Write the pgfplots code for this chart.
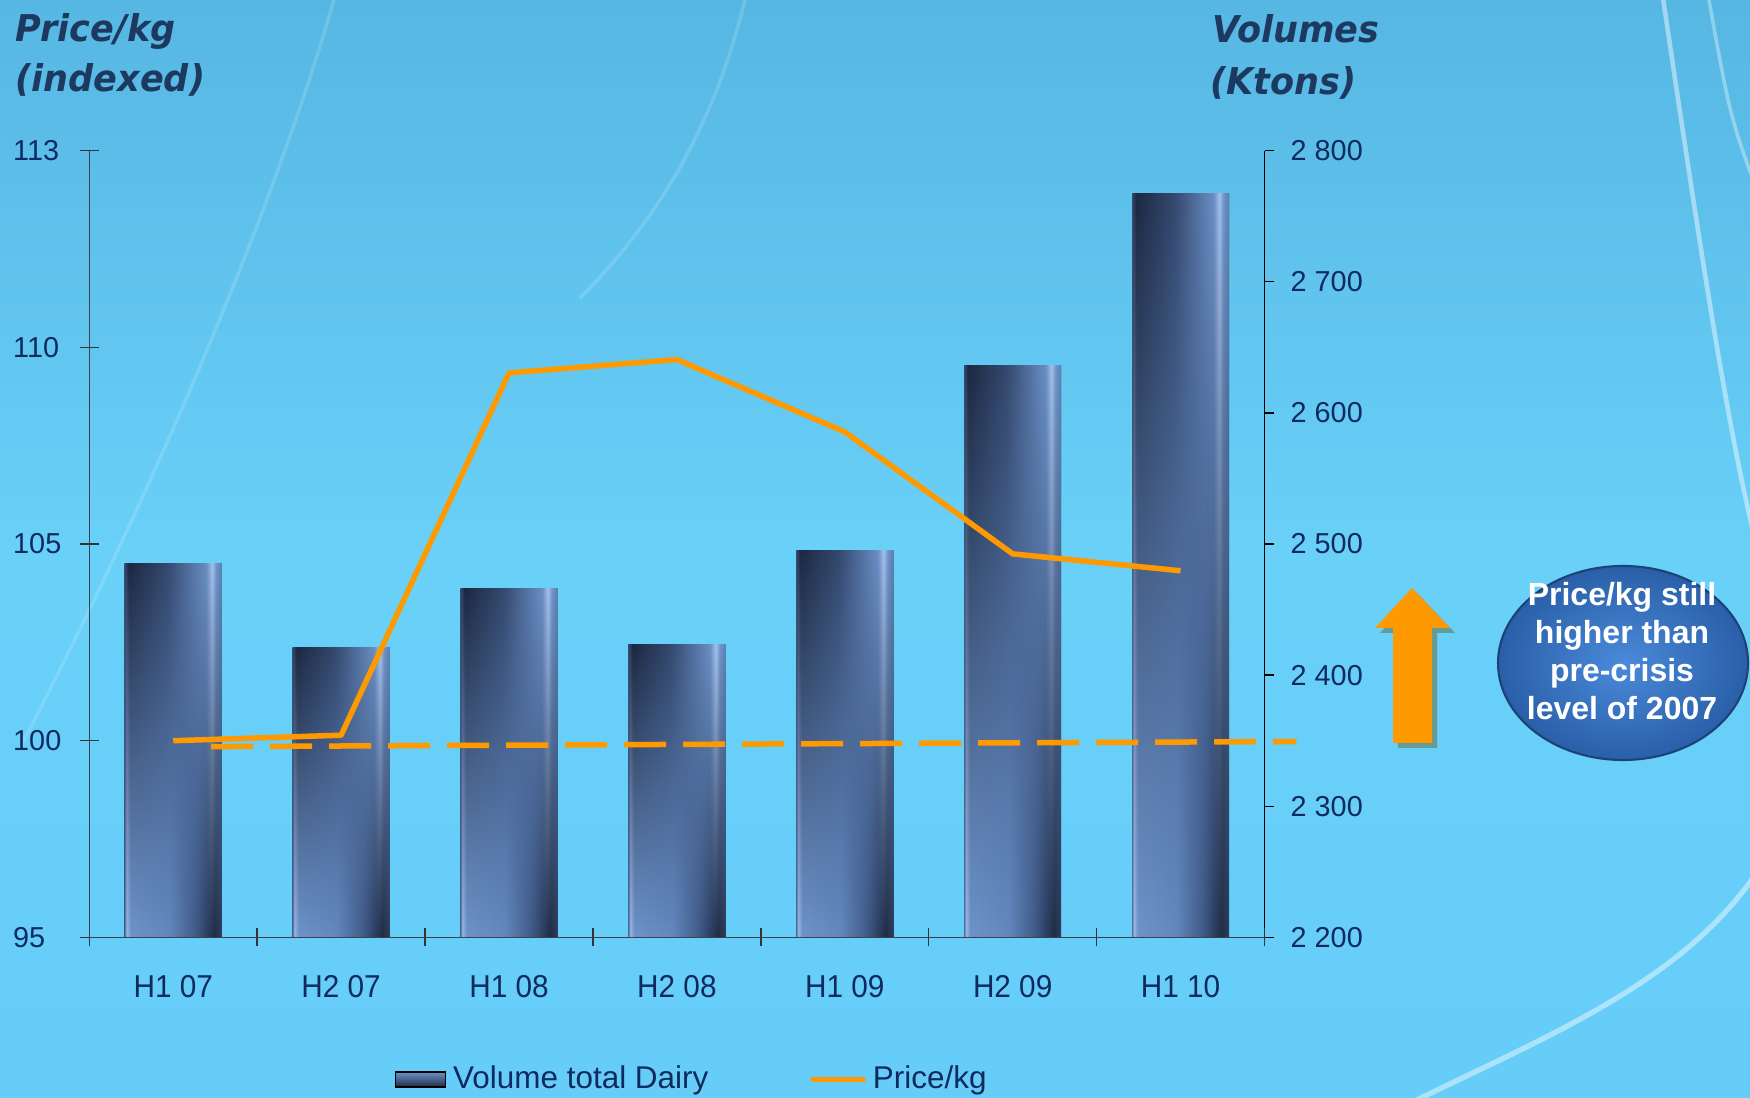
\documentclass[border=0pt]{standalone}
\usepackage{pgfplots}
\usepackage{pgfplotstable}
\pgfplotsset{compat=1.18}
\usetikzlibrary{fadings}
\usepackage{fontspec}
\setmainfont{Liberation Sans}
\newfontfamily\tickfont{Liberation Sans}
\newfontfamily\xtickfont[FakeStretch=0.94]{Liberation Sans}
\newfontfamily\legfont{Liberation Sans}
\newfontfamily\titlefont[FakeStretch=0.95]{DejaVu Sans Bold Oblique}
\definecolor{navy}{HTML}{0F2A5E}
\definecolor{titleblue}{HTML}{1E3960}
\definecolor{priceorange}{HTML}{FF9900}
\definecolor{barDark}{HTML}{1E2C48}
\definecolor{barLight}{HTML}{6A92C8}
\definecolor{bgTop}{HTML}{56B7E2}
\definecolor{bgMid}{HTML}{69D0F8}
\definecolor{bgBot}{HTML}{66CDF9}
\definecolor{bubIn}{HTML}{4A8ADA}
\definecolor{bubOut}{HTML}{2A5FA8}
% bar shading colours
\definecolor{bb0}{HTML}{5575A6}
\definecolor{bbHL}{HTML}{9DB8E6}
\definecolor{bbL}{HTML}{6E94CA}
\definecolor{bbM}{HTML}{6288BE}
\definecolor{bbD1}{HTML}{3E5886}
\definecolor{bbD}{HTML}{1F2C46}
\definecolor{bbE}{HTML}{2C3D5C}
\definecolor{tb0}{HTML}{33476B}
\definecolor{tbD}{HTML}{1C2841}
\definecolor{tbM}{HTML}{34496F}
\definecolor{tbL}{HTML}{6A8FC4}
\definecolor{tbHL}{HTML}{A5C2EE}
\definecolor{tbL2}{HTML}{7096CA}
\definecolor{tbE}{HTML}{5C7FB2}
\pgfdeclarehorizontalshading{barBottom}{100bp}{color(0bp)=(bb0); color(25bp)=(bb0); color(26bp)=(bbHL); color(28bp)=(bbL); color(48bp)=(bbM); color(62bp)=(bbD1); color(71bp)=(bbD); color(75bp)=(bbE); color(100bp)=(bbE)}
\pgfdeclarehorizontalshading{barTop}{100bp}{color(0bp)=(tb0); color(25bp)=(tb0); color(27bp)=(tbD); color(47bp)=(tbM); color(67bp)=(tbL); color(70bp)=(tbHL); color(72bp)=(tbL2); color(75bp)=(tbE); color(100bp)=(tbE)}
\pgfplotsset{
  barBaseSty/.style={ybar, bar width=9.7mm, draw=none, shade, shading=barBottom},
  barTopSty/.style={ybar, bar width=9.7mm, draw=none, shade, shading=barTop, path fading=south},
}
\pgfplotstableread{
x vol
0 2485
1 2421
2 2466
3 2423
4 2495
5 2636
6 2767
}\voltable
\pgfplotstableread{
x price
0 100
1 100.14
2 109.35
3 109.69
4 107.85
5 104.75
6 104.32
}\pricetable
\begin{document}
\begin{tikzpicture}
\path[use as bounding box] (0,0) rectangle (17.5,10.98);
\shade[top color=bgTop, bottom color=bgBot, middle color=bgMid] (0,0) rectangle (17.5,10.98);
% faint decorative curves
\begin{scope}
\clip (0,0) rectangle (17.5,10.98);
\draw[white, opacity=0.45, line width=1.3pt] (16.6,11.2) .. controls (17.0,8.5) and (17.3,6.5) .. (17.6,5.4);
\draw[white, opacity=0.35, line width=1pt] (17.05,11.2) .. controls (17.3,9.8) .. (17.6,9.0);
\draw[white, opacity=0.45, line width=1.5pt] (13.8,-0.2) .. controls (15.4,0.6) and (16.8,1.1) .. (17.6,2.3);
\draw[white, opacity=0.15, line width=1pt] (0.2,3.5) .. controls (1.5,6) and (2.8,9) .. (3.4,11.2);
\draw[white, opacity=0.15, line width=1pt] (7.5,11.2) .. controls (7.2,9.8) and (6.6,8.8) .. (5.8,8.0);
\end{scope}

% volumes (right axis)
\begin{axis}[
  at={(0.893cm,1.606cm)}, anchor=south west,
  scale only axis, width=11.752cm, height=7.867cm,
  xmin=-0.5, xmax=6.5, ymin=0, ymax=600,
  axis y line*=right, axis x line=none,
  y filter/.expression={y-2200},
  ytick={0,100,...,600},
  yticklabels={2 200,2 300,2 400,2 500,2 600,2 700,2 800},
  tick align=outside, major tick length=0.9mm,
  every tick/.style={black, line width=0.4pt},
  axis line style={black, line width=0.4pt},
  yticklabel style={font=\tickfont\fontsize{8.2}{10}\selectfont, text=navy, anchor=west, inner sep=0pt, xshift=1.65mm},
]
\pgfplotsinvokeforeach{0,...,6}{
  \addplot[barBaseSty, restrict x to domain=#1:#1] table[x=x, y=vol] {\voltable};
  \addplot[barTopSty, restrict x to domain=#1:#1] table[x=x, y=vol] {\voltable};
}
\end{axis}

% price (left axis)
\begin{axis}[
  at={(0.893cm,1.606cm)}, anchor=south west,
  scale only axis, width=11.752cm, height=7.867cm,
  xmin=-0.5, xmax=6.5, ymin=95, ymax=115,
  axis x line*=bottom, axis y line*=left,
  clip=false,
  ytick={95,100,105,110,115}, yticklabels={95,100,105,110,113},
  xtick={0,...,6}, xticklabels={H1 07,H2 07,H1 08,H2 08,H1 09,H2 09,H1 10},
  minor xtick={-0.5,0.5,...,6.5},
  major x tick style={draw=none},
  minor x tick style={black!80, line width=0.4pt},
  y tick style={black!80, line width=0.4pt},
  tick align=center, major tick length=1.9mm, minor tick length=1.8mm,
  axis line style={black!75, line width=0.4pt},
  yticklabel style={font=\tickfont\fontsize{8.2}{10}\selectfont, text=navy, anchor=west, inner sep=0pt, xshift=-6.73mm},
  xticklabel style={font=\xtickfont\fontsize{9}{11}\selectfont, text=navy, anchor=north, inner sep=0pt, yshift=-2.76mm},
  legend columns=2,
  legend cell align=left,
  legend style={at={(0.2593,-0.1806)}, anchor=west, draw=none, fill=none, inner sep=0pt,
    font=\legfont\fontsize{8.95}{10}\selectfont, text=navy,
    /tikz/every even column/.append style={column sep=9.5mm}},
]
\addlegendimage{legend image code/.code={\shade[top color=barLight, bottom color=barDark] (0mm,-0.75mm) rectangle (5mm,0.75mm);}}
\addlegendentry{Volume total Dairy}
\addplot[priceorange, line width=0.55mm, line join=round,
  legend image code/.code={\draw[priceorange, line width=0.55mm, line cap=round] (0.3mm,0mm) -- (5.3mm,0mm);}]
  table[x=x, y=price] {\pricetable};
\addlegendentry{Price/kg}
\addplot[priceorange, line width=0.55mm, dash pattern=on 4.2mm off 1.7mm, forget plot]
  coordinates {(0.225,99.85) (6.69,99.98)};
\end{axis}

% titles
\node[anchor=base west, inner sep=0, text=titleblue, font=\titlefont\fontsize{10.5}{12}\selectfont] at (0.15,10.56) {Price/kg};
\node[anchor=base west, inner sep=0, text=titleblue, font=\titlefont\fontsize{10.5}{12}\selectfont] at (0.15,10.06) {(indexed)};
\node[anchor=base west, inner sep=0, text=titleblue, font=\titlefont\fontsize{10.5}{12}\selectfont] at (12.12,10.55) {Volumes};
\node[anchor=base west, inner sep=0, text=titleblue, font=\titlefont\fontsize{10.5}{12}\selectfont] at (12.10,10.03) {(Ktons)};

% arrow
\fill[black!40!olive, opacity=0.45, shift={(0.05,-0.05)}] (13.93,3.55) -- (13.93,4.70) -- (13.75,4.70) -- (14.12,5.10) -- (14.50,4.70) -- (14.32,4.70) -- (14.32,3.55) -- cycle;
\fill[priceorange] (13.93,3.55) -- (13.93,4.70) -- (13.75,4.70) -- (14.12,5.10) -- (14.50,4.70) -- (14.32,4.70) -- (14.32,3.55) -- cycle;

% bubble
\shade[inner color=bubIn, outer color=bubOut] (16.23,4.35) ellipse (1.25 and 0.97);
\draw[bubOut!70!black, line width=0.6pt] (16.23,4.35) ellipse (1.25 and 0.97);
\node[align=center, text=white, font=\bfseries\fontsize{9.1}{10.8}\selectfont, anchor=north, inner sep=0] at (16.22,5.16) {Price/kg still\\higher than\\pre-crisis\\level of 2007};
\end{tikzpicture}
\end{document}
